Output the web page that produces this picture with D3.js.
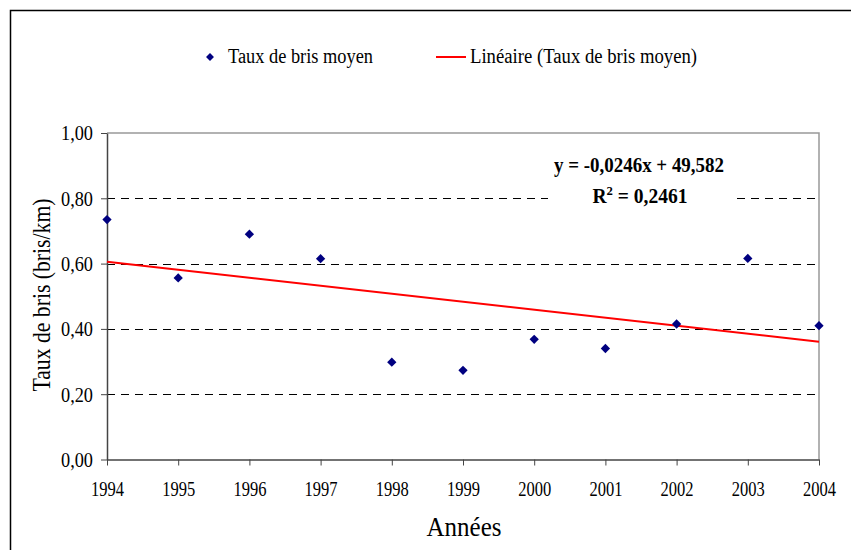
<!DOCTYPE html>
<html><head><meta charset="utf-8">
<script src="https://cdn.jsdelivr.net/npm/d3@7"></script>
<style>body{margin:0;background:#fff}svg{display:block}
svg text{font-family:"Liberation Serif","DejaVu Serif",serif !important}</style>
</head><body>
<svg id="c" width="851" height="550"></svg>
<script>
const years = [1994,1995,1996,1997,1998,1999,2000,2001,2002,2003,2004];
const tauxMoyen = [0.735,0.556,0.690,0.615,0.298,0.273,0.368,0.340,0.415,0.616,0.410];
const yTicks = [0,0.2,0.4,0.6,0.8,1.0];
const seriesName = "Taux de bris moyen";
const trendName = "Linéaire (Taux de bris moyen)";
const eqLabel = "y = -0,0246x + 49,582";
const r2Value = "0,2461";

const svg = d3.select("#c");
const m = {l:107, r:819, t:133, b:459.5};
const x = d3.scaleLinear().domain([1994,2004]).range([m.l,m.r]);
const y = d3.scaleLinear().domain([0,1]).range([m.b,m.t]);

svg.append("path").attr("d","M10.5,550 V10.5 H851").attr("fill","none").attr("stroke","#000").attr("stroke-width",1.5);
svg.append("path").attr("d",`M${m.l},${y(1)} H${m.r} V${m.b}`).attr("fill","none").attr("stroke","#999").attr("stroke-width",1.5);

svg.append("g").selectAll("line").data(yTicks.filter(d=>d>0&&d<1)).join("line")
  .attr("x1",m.l).attr("x2",m.r).attr("y1",d=>Math.round(y(d))+0.5).attr("y2",d=>Math.round(y(d))+0.5)
  .attr("stroke","#000").attr("stroke-dasharray","8,6").attr("stroke-width",1);

const fmt = d=>d3.format(".2f")(d).replace(".",",");
const ya = svg.append("g").attr("transform",`translate(${m.l},0)`)
  .call(d3.axisLeft(y).tickValues(yTicks).tickFormat(fmt).tickSize(6).tickSizeOuter(0));
const xa = svg.append("g").attr("transform",`translate(0,${m.b})`)
  .call(d3.axisBottom(x).tickValues(years).tickFormat(d3.format("d")).tickSize(6).tickSizeOuter(0));
[ya,xa].forEach(a=>{
  a.select(".domain").attr("stroke","#444").attr("stroke-width",1.5);
  a.selectAll(".tick line").attr("stroke","#444");
  a.selectAll("text").attr("font-size",20).attr("fill","#000").attr("lengthAdjust","spacingAndGlyphs");
});
ya.selectAll("text").attr("x",-14).attr("dy","0.34em").attr("textLength",32);
xa.selectAll("text").attr("y",36.5).attr("dy",0).attr("textLength",33);

const mx = d3.mean(years), my = d3.mean(tauxMoyen);
const slope = d3.sum(years,(d,i)=>(d-mx)*(tauxMoyen[i]-my))/d3.sum(years,d=>(d-mx)**2);
const icpt = my - slope*mx;
svg.append("line").attr("x1",x(1994)).attr("x2",x(2004))
  .attr("y1",y(slope*1994+icpt)).attr("y2",y(slope*2004+icpt))
  .attr("stroke","#ff0000").attr("stroke-width",2);

const diamond = d3.symbol().type(d3.symbolDiamond2).size(55);
svg.append("g").selectAll("path").data(years).join("path")
  .attr("d",diamond).attr("transform",(d,i)=>`translate(${x(d)},${y(tauxMoyen[i])})`)
  .attr("fill","#000080");

const eq = svg.append("g").attr("font-weight","bold").attr("font-size",20).attr("text-anchor","middle");
eq.append("rect").attr("x",548).attr("y",150).attr("width",184).attr("height",60).attr("fill","#fff");
eq.append("text").attr("x",639).attr("y",172).attr("textLength",170).attr("lengthAdjust","spacingAndGlyphs").text(eqLabel);
const r2 = eq.append("text").attr("x",640).attr("y",203).attr("textLength",95).attr("lengthAdjust","spacingAndGlyphs");
r2.append("tspan").text("R");
r2.append("tspan").attr("font-size",13).attr("dy",-8).text("2");
r2.append("tspan").attr("dy",8).text(" = "+r2Value);

svg.append("path").attr("d",d3.symbol().type(d3.symbolDiamond2).size(40)()).attr("transform","translate(210,57)").attr("fill","#000080");
svg.append("text").attr("x",228).attr("y",63).attr("font-size",20).attr("textLength",145).attr("lengthAdjust","spacingAndGlyphs").text(seriesName);
svg.append("line").attr("x1",436).attr("x2",466).attr("y1",57).attr("y2",57).attr("stroke","#ff0000").attr("stroke-width",2);
svg.append("text").attr("x",470).attr("y",63).attr("font-size",20).attr("textLength",227).attr("lengthAdjust","spacingAndGlyphs").text(trendName);

svg.append("text").attr("x",464).attr("y",536).attr("text-anchor","middle").attr("font-size",28).attr("textLength",75).attr("lengthAdjust","spacingAndGlyphs").text("Années");
svg.append("text").attr("transform","translate(50,295) rotate(-90)").attr("text-anchor","middle").attr("font-size",25).attr("textLength",193).attr("lengthAdjust","spacingAndGlyphs").text("Taux de bris (bris/km)");
</script>
</body></html>
